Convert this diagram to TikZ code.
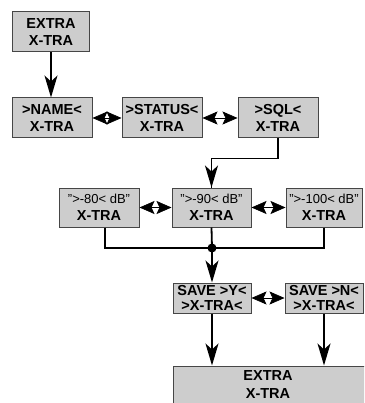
\documentclass[tikz,border=0pt]{standalone}
\usepackage{fontspec}
\setmainfont{Liberation Sans}
\usetikzlibrary{arrows.meta,calc}
\definecolor{boxfill}{RGB}{205,205,205}
\definecolor{boxline}{RGB}{70,70,70}
\tikzset{
  mbox/.style={draw=boxline, fill=boxfill, line width=1pt, rectangle, inner sep=0pt,
    minimum height=40pt, align=center, font=\fontsize{14.5}{17.5}\selectfont\bfseries},
  sbox/.style={mbox, minimum height=30pt, font=\fontsize{14.5}{15}\selectfont\bfseries},
  conn/.style={line width=1.8pt, black},
  arr/.style={conn, arrows={-Stealth[length=22pt,width=13pt,inset=6pt]}},
  harr/.style={line width=0.6pt, black, arrows={-Stealth[length=15pt,width=13pt,inset=3pt]}}
}
\newcommand{\dblarrow}[2]{%
  \draw[harr] ($(#1.east)!0.5!(#2.west)$) -- (#1.east);
  \draw[harr] ($(#1.east)!0.5!(#2.west)$) -- (#2.west);}
\begin{document}
\begin{tikzpicture}[x=1pt,y=1pt]
\useasboundingbox (0,0) rectangle (364,-403);
\begin{scope}
\clip (0,0) rectangle (364,-403);
\node[mbox, minimum width=77pt] (e1) at (51,-32) {EXTRA\\X-TRA};
\node[mbox, minimum width=80pt] (name) at (52,-118) {>NAME<\\X-TRA};
\node[mbox, minimum width=80pt] (status) at (162,-118) {>STATUS<\\X-TRA};
\node[mbox, minimum width=80pt] (sql) at (278,-118) {>SQL<\\X-TRA};
\node[mbox, minimum width=80pt, minimum height=39pt] (ra) at (99,-207.5) {{\fontsize{13}{13}\selectfont\mdseries">-80< dB"}\\X-TRA};
\node[mbox, minimum width=79pt, minimum height=39pt] (rb) at (211.5,-207.5) {{\fontsize{13}{13}\selectfont\mdseries">-90< dB"}\\X-TRA};
\node[mbox, minimum width=76pt, minimum height=39pt] (rc) at (324,-207.5) {{\fontsize{13}{13}\selectfont\mdseries">-100< dB"}\\X-TRA};
\node[sbox, minimum width=78pt] (sy) at (212,-298) {SAVE >Y<\\>X-TRA<};
\node[sbox, minimum width=78pt] (sn) at (324,-298) {SAVE >N<\\>X-TRA<};
\node[draw=boxline, fill=boxfill, line width=1pt, rectangle, inner sep=0pt,
  minimum width=202pt, minimum height=54pt] (e2) at (274,-393) {};
\node[align=center, font=\fontsize{14.5}{17.5}\selectfont\bfseries] (e2t) at (268,-384.5) {EXTRA\\X-TRA};
\end{scope}
\coordinate (j) at (212,-248);
\draw[arr] (e1.south) -- (e1.south |- name.north);
\dblarrow{name}{status}
\dblarrow{status}{sql}
\dblarrow{ra}{rb}
\dblarrow{rb}{rc}
\dblarrow{sy}{sn}
\draw[conn] (sql.south) -- ++(0,-20) -| (rb.north);
\draw[arr] ($(rb.north)+(0,12)$) -- (rb.north);
\draw[conn] ([xshift=6pt]ra.south) |- (j);
\draw[conn] (rc.south) |- (j);
\draw[conn] (rb.south) -- (j);
\fill (j) circle (4.5pt);
\draw[arr] (j) -- (sy.north);
\draw[arr] (sy.south) -- (sy.south |- e2.north);
\draw[arr] (sn.south) -- (sn.south |- e2.north);
\end{tikzpicture}
\end{document}
